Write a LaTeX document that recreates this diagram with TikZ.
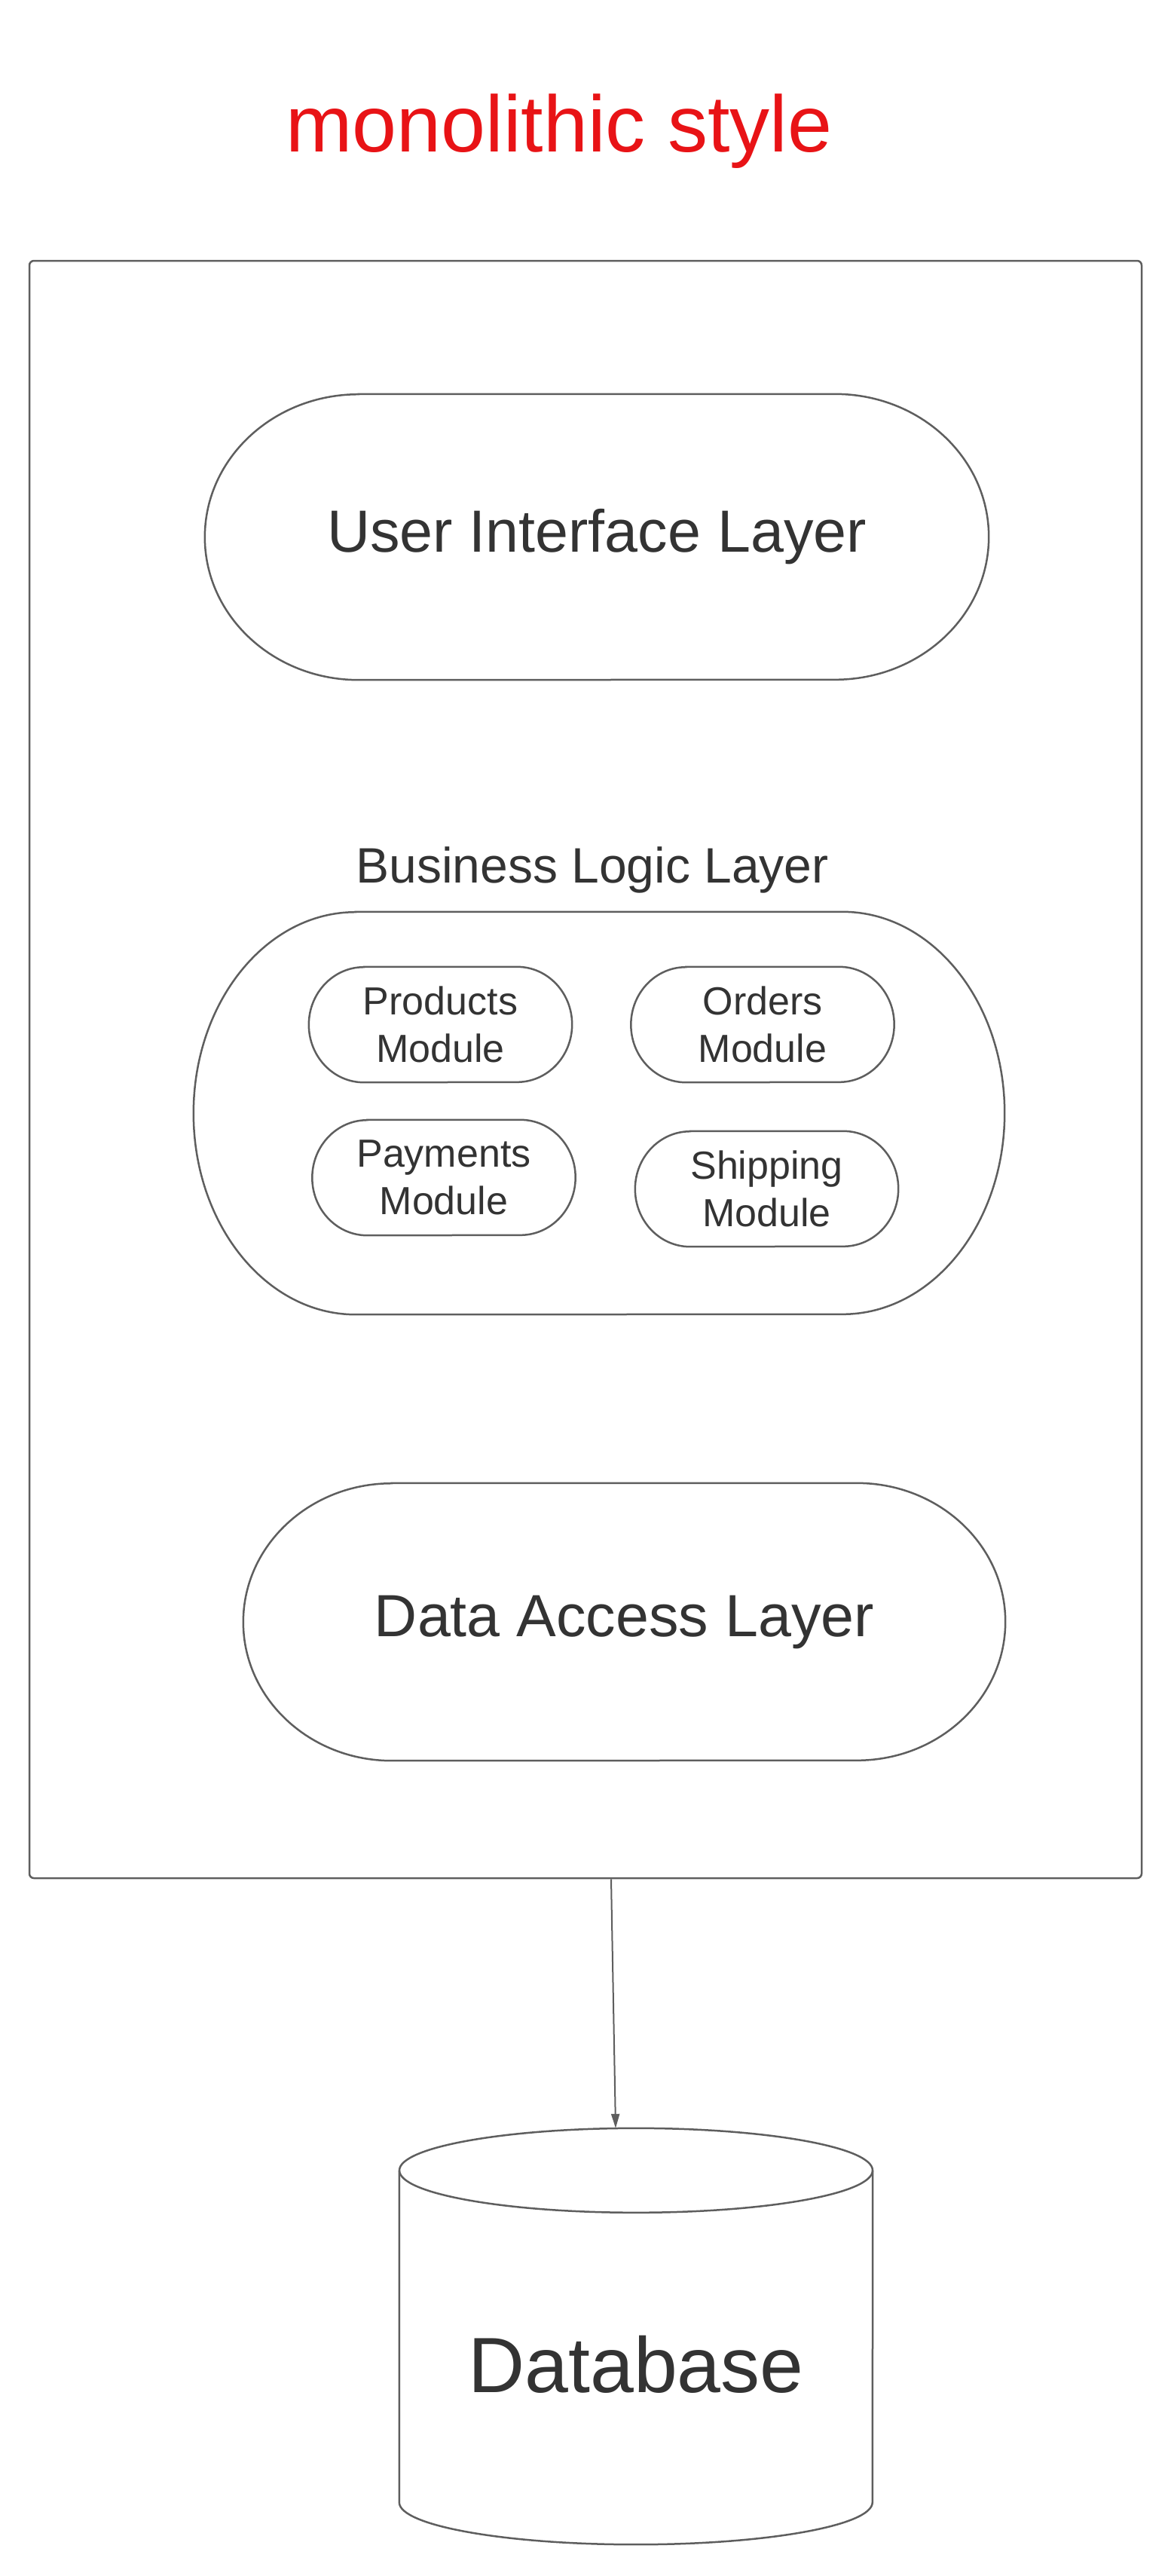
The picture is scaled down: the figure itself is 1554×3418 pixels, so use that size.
\documentclass[tikz,border=0pt]{standalone}
\usepackage{fontspec}
\setmainfont{Liberation Sans}
\usetikzlibrary{arrows.meta}
\definecolor{linegray}{HTML}{5E5E5E}
\definecolor{textgray}{HTML}{333333}
\definecolor{titlered}{RGB}{232,19,22}
\newcommand\stadiumoutline[3]{%
  \draw[outline] ([xshift=#2]#1.north west) -- ([xshift=-#2]#1.north east)
    arc[start angle=90,end angle=-90,x radius=#2,y radius=#3]
    -- ([xshift=#2]#1.south west)
    arc[start angle=270,end angle=90,x radius=#2,y radius=#3] -- cycle;}
\tikzset{
  outline/.style={draw=linegray,line width=2.5pt},
  shapebox/.style={inner sep=0pt,text=textgray,align=center},
  bigtext/.style={font=\fontsize{79}{95}\selectfont},
  modtext/.style={font=\fontsize{52}{63}\selectfont},
  modbox/.style={shapebox,modtext,minimum width=349pt,minimum height=153pt},
  connector/.style={draw=linegray,line width=2pt,-{Triangle[length=19pt,width=11pt]}}
}
\begin{document}
\begin{tikzpicture}[x=1pt,y=1pt]
\useasboundingbox (0,0) rectangle (1554,-3418);
% title
\node[anchor=base,text=titlered,font=\fontsize{106}{127}\selectfont] (title) at (742,-201) {monolithic style};
% outer container
\node[outline,rounded corners=6pt,minimum width=1476pt,minimum height=2146pt,inner sep=0pt] (outer) at (777,-1419) {};
% user interface layer
\node[shapebox,bigtext,minimum width=1040pt,minimum height=379pt] (ui) at (792,-712.5) {User Interface Layer};
\stadiumoutline{ui}{204pt}{189.5pt}
% business logic layer
\node[anchor=base,text=textgray,font=\fontsize{66}{80}\selectfont] (bllabel) at (786,-1171) {Business Logic Layer};
\node[shapebox,minimum width=1076pt,minimum height=534pt] (bll) at (795,-1477) {};
\stadiumoutline{bll}{215pt}{267pt}
% modules
\node[modbox] (products) at (584.5,-1359.5) {Products\\Module};
\stadiumoutline{products}{73pt}{76.5pt}
\node[modbox] (orders) at (1012,-1359.5) {Orders\\Module};
\stadiumoutline{orders}{73pt}{76.5pt}
\node[modbox] (payments) at (589,-1562.5) {Payments\\Module};
\stadiumoutline{payments}{73pt}{76.5pt}
\node[modbox] (shipping) at (1017.5,-1577.5) {Shipping\\Module};
\stadiumoutline{shipping}{73pt}{76.5pt}
% data access layer
\node[shapebox,bigtext,minimum width=1011pt,minimum height=368pt] (dal) at (828.5,-2152) {Data Access Layer};
\stadiumoutline{dal}{197pt}{184pt}
% database cylinder
\node[shapebox,font=\fontsize{104}{125}\selectfont,minimum width=628pt,minimum height=478pt] (db) at (844,-3137) {Database};
\draw[outline] ([yshift=18pt]db.north west) -- ([yshift=56pt]db.south west)
  arc[start angle=180,end angle=360,x radius=314pt,y radius=56pt]
  -- ([yshift=18pt]db.north east);
\draw[outline] ([yshift=18pt]db.north) ellipse[x radius=314pt,y radius=56pt];
% connector
\draw[connector] ([xshift=34pt]outer.south) -- ([xshift=-27pt,yshift=74pt]db.north);
\end{tikzpicture}
\end{document}
